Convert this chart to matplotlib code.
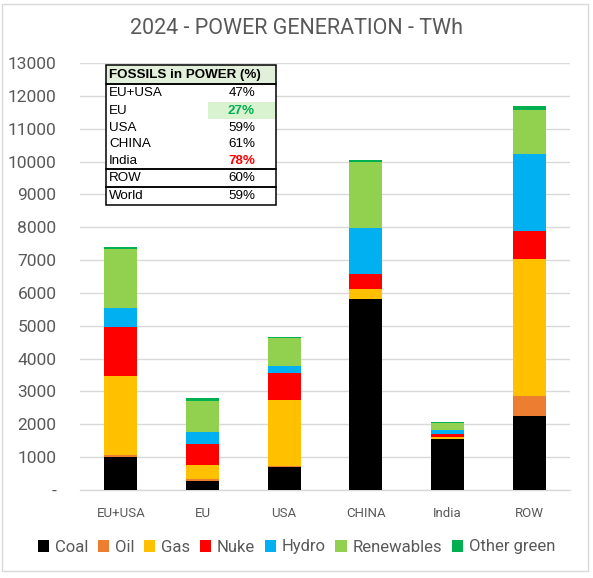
import matplotlib
matplotlib.use("Agg")
import matplotlib.pyplot as plt
from matplotlib.patches import Rectangle
import numpy as np

# ---- data ----
regions = ["EU+USA", "EU", "USA", "CHINA", "India", "ROW"]
coal       = [995, 283, 707, 5800, 1560, 2247]
oil        = [75, 50, 35, 30, 5, 607]
gas        = [2415, 425, 1990, 304, 55, 4191]
nuke       = [1465, 646, 818, 455, 70, 850]
hydro      = [606, 354, 223, 1377, 140, 2338]
renewables = [1787, 949, 848, 2024, 220, 1336]
other_green = [61, 81, 30, 61, 30, 121]

series_names = ["Coal", "Oil", "Gas", "Nuke", "Hydro", "Renewables", "Other green"]
series_colors = ["#000000", "#ED7D31", "#FFC000", "#FF0000", "#00B0F0", "#92D050", "#00B050"]

yticks = [0, 1000, 2000, 3000, 4000, 5000, 6000, 7000, 8000, 9000, 10000, 11000, 12000, 13000]
ytick_labels = ["-"] + [str(v) for v in yticks[1:]]

table_title = "FOSSILS in POWER (%)"
table_rows = ["EU+USA", "EU", "USA", "CHINA", "India", "ROW", "World"]
table_vals = ["47%", "27%", "59%", "61%", "78%", "60%", "59%"]

title = "2024 - POWER GENERATION - TWh"

# ---- figure ----
W, H = 593, 578
fig = plt.figure(figsize=(W / 100, H / 100), dpi=100)
plt.rcParams['font.family'] = ['Roboto', 'DejaVu Sans']
grey = "#595959"

ax = fig.add_axes([80 / W, 1 - 490 / H, (570 - 80) / W, (490 - 63) / H])

data = [coal, oil, gas, nuke, hydro, renewables, other_green]
x = np.arange(len(regions))
bottom = np.zeros(len(regions))
handles = []
for name, vals, col in zip(series_names, data, series_colors):
    b = ax.bar(x, vals, width=0.405, bottom=bottom, color=col, label=name, zorder=3)
    handles.append(b)
    bottom += np.array(vals)

ax.set_xlim(-0.5, len(regions) - 0.5)
ax.set_ylim(0, 13000)
ax.set_yticks(yticks)
ax.set_yticklabels(ytick_labels, fontsize=12.5, color=grey)
ax.set_xticks(x)
ax.set_xticklabels(regions, fontsize=9.5, color=grey)
ax.tick_params(axis='y', length=0, pad=17)
ax.tick_params(axis='x', length=0, pad=12)
ax.grid(axis='y', color="#D9D9D9", linewidth=1, zorder=0)
for s in ["top", "right", "left"]:
    ax.spines[s].set_visible(False)
ax.spines["bottom"].set_color("#D9D9D9")
ax.spines["bottom"].set_linewidth(1)

fig.text(0.5, 1 - 28 / H, title, ha="center", va="center", fontsize=15.5, color=grey)

leg = fig.legend(handles=handles, labels=series_names, loc="center", bbox_to_anchor=(0.5, 1 - 547 / H),
                 ncol=7, frameon=False, fontsize=12, handlelength=0.7, handleheight=0.7,
                 handletextpad=0.35, columnspacing=0.55, labelcolor=grey)

# figure border
fig.patches.append(Rectangle((2 / W, 1 - 571 / H), 586 / W, 567 / H, transform=fig.transFigure,
                             fill=False, edgecolor="#D9D9D9", linewidth=1))

# ---- inset table ----
def fx(px):
    return px / W

def fy(py):
    return 1 - py / H

tl, tr = 106, 276
tfont = ['Liberation Sans', 'DejaVu Sans']
fs = 9.6
# white background
fig.patches.append(Rectangle((fx(tl), fy(205)), fx(tr - tl), (205 - 65) / H, transform=fig.transFigure,
                             facecolor="white", edgecolor="none", zorder=5))
# header background
fig.patches.append(Rectangle((fx(tl), fy(84)), fx(tr - tl), (84 - 65) / H, transform=fig.transFigure,
                             facecolor="#E2EFDA", edgecolor="none", zorder=5))
# EU highlighted cell
fig.patches.append(Rectangle((fx(208), fy(119)), fx(tr - 208), (119 - 102) / H, transform=fig.transFigure,
                             facecolor="#D9F2D0", edgecolor="none", zorder=5))
fig.text(fx(109), fy(75), table_title, fontsize=fs, fontweight="bold", family=tfont,
         ha="left", va="center", zorder=6)
row_centers = [93, 111, 128, 144, 161, 178, 196]
for lab, val, yc in zip(table_rows, table_vals, row_centers):
    color = "black"
    weight = "normal"
    if lab == "EU":
        color, weight = "#00B050", "bold"
    if lab == "India":
        color, weight = "#FF0000", "bold"
    fig.text(fx(109), fy(yc), lab, fontsize=fs, family=tfont, ha="left", va="center", zorder=6)
    fig.text(fx(255), fy(yc), val, fontsize=fs, family=tfont, ha="right", va="center",
             color=color, fontweight=weight, zorder=6)
# borders
for y0, y1 in [(65, 84), (84, 169), (169, 187), (187, 205)]:
    fig.patches.append(Rectangle((fx(tl), fy(y1)), fx(tr - tl), (y1 - y0) / H, transform=fig.transFigure,
                                 fill=False, edgecolor="black", linewidth=1.1, zorder=7))

fig.savefig("out.png", dpi=100)
